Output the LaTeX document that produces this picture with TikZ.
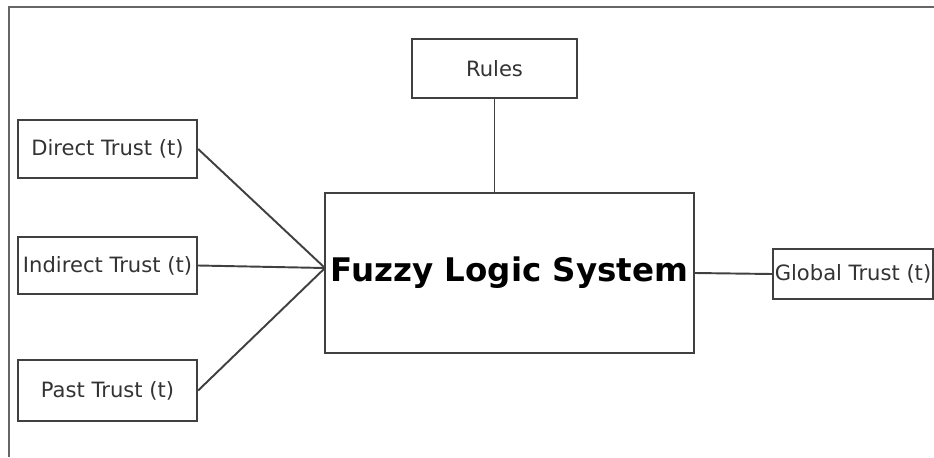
\documentclass[tikz,border=0pt]{standalone}
\usepackage{fontspec}
\setmainfont{DejaVu Sans}
\usetikzlibrary{positioning}

\begin{document}
\begin{tikzpicture}[x=0.02cm, y=-0.02cm,
  block/.style={rectangle, draw=black!75, line width=1.3pt, inner sep=0pt,
    font=\fontsize{12}{14}\selectfont, text=black!80},
  link/.style={draw=black!75, line width=1.1pt}]

		\useasboundingbox (0,0) rectangle (934,457);
		\draw[black!60, line width=1.3pt] (9,457) -- (9,7) -- (934,7);

		\node[block, minimum width=3.58cm, minimum height=1.16cm] (direct) at (107.5,149) {Direct Trust (t)};
		\node[block, minimum width=3.58cm, minimum height=1.14cm] (indirect) at (107.5,265.5) {Indirect Trust (t)};
		\node[block, minimum width=3.58cm, minimum height=1.22cm] (past) at (107.5,390.5) {Past Trust (t)};
		\node[block, minimum width=3.30cm, minimum height=1.18cm] (rules) at (494.5,68.5) {Rules};
		\node[block, minimum width=7.38cm, minimum height=3.20cm, text=black,
		      font=\fontsize{18.5}{22}\selectfont\bfseries] (fls) at (509.5,273) {Fuzzy Logic System};
		\node[block, minimum width=3.20cm, minimum height=1.00cm] (global) at (853,274) {Global Trust (t)};

		\coordinate (join) at (325,268);

		\path[link]
		(direct.east) edge (join)
		(indirect.east) edge (join)
		(past.east) edge (join)
		(rules.south) edge (rules.south |- fls.north)
		(fls.east) edge (global.west);

\end{tikzpicture}
\end{document}
